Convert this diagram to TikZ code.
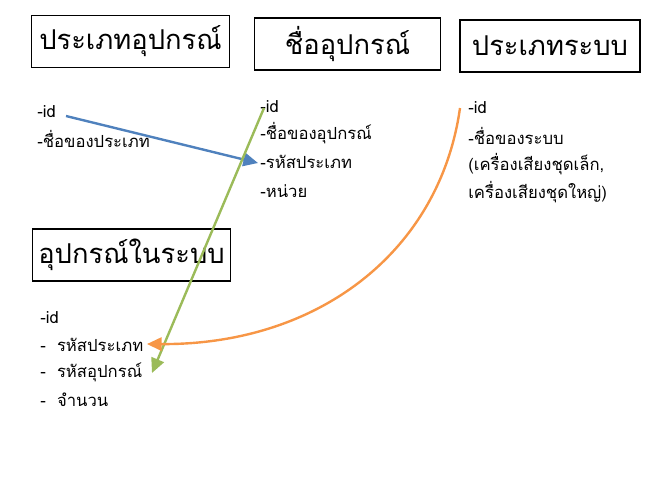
\documentclass[tikz,border=0pt]{standalone}
\usepackage{fontspec}
\setmainfont[Script=Thai]{Loma}
\usetikzlibrary{arrows.meta}
\definecolor{cblue}{HTML}{4F81BD}
\definecolor{cgreen}{HTML}{9BBB59}
\definecolor{corange}{HTML}{F79646}
\begin{document}
\begin{tikzpicture}[x=0.75pt,y=-0.75pt,
  title/.style={draw,thick,minimum height=39pt,inner sep=2pt,font=\fontsize{20.5}{23}\selectfont},
  txt/.style={anchor=west,inner sep=0pt,font=\fontsize{12.5}{14}\selectfont},
  arr/.style={line width=1.8pt,-{Triangle[length=11pt,width=10pt]}}]
\useasboundingbox (0,0) rectangle (660,480);
\node[title,minimum width=148pt] (b1) at (130.5,41.5) {ประเภทอุปกรณ์};
\node[title,minimum width=140pt] (b2) at (347.5,44) {ชื่ออุปกรณ์};
\node[title,minimum width=135pt] (b3) at (550,46) {ประเภทระบบ};
\node[title,minimum width=148pt] (b4) at (131.5,255) {อุปกรณ์ในระบบ};
\node[txt] (a1) at (37,112) {-id};
\node[txt] (a2) at (37,139) {-ชื่อของประเภท};
\node[txt] (c1) at (260,107) {-id};
\node[txt] (c2) at (260,133) {-ชื่อของอุปกรณ์};
\node[txt] (c3) at (260,162) {-รหัสประเภท};
\node[txt] (c4) at (260,191) {-หน่วย};
\node[txt] (d1) at (468,108) {-id};
\node[txt] (d2) at (468,136) {-ชื่อของระบบ};
\node[txt] (d3) at (468,164) {(เครื่องเสียงชุดเล็ก,};
\node[txt] (d4) at (468,192) {เครื่องเสียงชุดใหญ่)};
\node[txt] (e1) at (40,318) {-id};
\node[txt] (e2) at (40,345) {-\ \ รหัสประเภท};
\node[txt] (e3) at (40,372) {-\ \ รหัสอุปกรณ์};
\node[txt] (e4) at (40,400) {-\ \ จำนวน};
\coordinate (s1) at (66,116);
\coordinate (t1) at (258,163);
\coordinate (s2) at (264,108);
\coordinate (t2) at (152,373);
\coordinate (s3) at (460,108);
\coordinate (t3) at (147,344);
\draw[arr,color=cblue] (s1) -- (t1);
\draw[arr,color=cgreen] (s2) -- (t2);
\draw[arr,color=corange] (s3) .. controls (440,250) and (320,345) .. (t3);
\end{tikzpicture}
\end{document}
